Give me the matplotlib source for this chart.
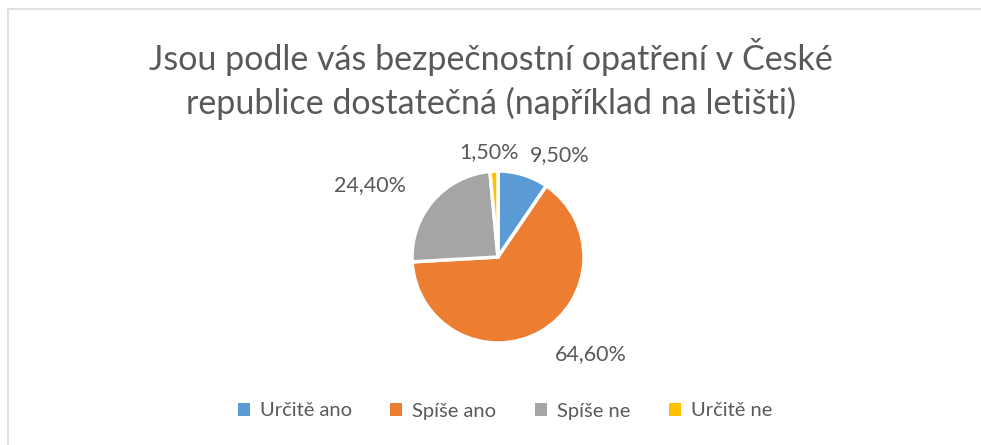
import matplotlib.pyplot as plt
from matplotlib.lines import Line2D
from matplotlib.patches import Patch

# data
categories = ["Určitě ano", "Spíše ano", "Spíše ne", "Určitě ne"]
values = [9.5, 64.6, 24.4, 1.5]
labels = ["9,50%", "64,60%", "24,40%", "1,50%"]
colors = ["#5B9BD5", "#ED7D31", "#A5A5A5", "#FFC000"]
title = "Jsou podle vás bezpečnostní opatření v České\nrepublice dostatečná (například na letišti)"

W, H = 981, 445
fig = plt.figure(figsize=(W / 100, H / 100), dpi=100)
plt.rcParams['font.family'] = ['Lato', 'DejaVu Sans']
textcol = "#595959"

# frame lines (top and left only are visible)
fig.add_artist(Line2D([8 / W, 1], [1 - 9 / H, 1 - 9 / H], color="#D9D9D9", lw=1.2))
fig.add_artist(Line2D([8 / W, 8 / W], [0, 1 - 9 / H], color="#D9D9D9", lw=1.2))

fig.text(0.5, 1 - 79 / H, title, ha="center", va="center", fontsize=24.5,
         color=textcol, linespacing=1.38)

# pie axes: centre (498, 257), radius ~86 px
r = 86
ax = fig.add_axes([(498 - r) / W, 1 - (257 + r) / H, 2 * r / W, 2 * r / H])
wedges, _ = ax.pie(values, colors=colors, startangle=90, counterclock=False,
                   wedgeprops=dict(edgecolor="white", linewidth=2.5))
ax.set_xlim(-1, 1)
ax.set_ylim(-1, 1)
ax.set_aspect("equal")

# data labels
label_pos = [(560, 155), (591, 354), (370, 185), (489, 152)]
for lab, (x, y) in zip(labels, label_pos):
    fig.text(x / W, 1 - y / H, lab, ha="center", va="center", fontsize=15.5, color=textcol)

handles = [Patch(facecolor=c, edgecolor="none") for c in colors]
fig.legend(handles, categories, loc="center", bbox_to_anchor=(505 / W, 1 - 411 / H),
           ncol=4, frameon=False, fontsize=14.5, labelcolor=textcol,
           handlelength=0.6, handleheight=0.6, handletextpad=0.5, columnspacing=1.9)

fig.savefig("out.png", dpi=100)
